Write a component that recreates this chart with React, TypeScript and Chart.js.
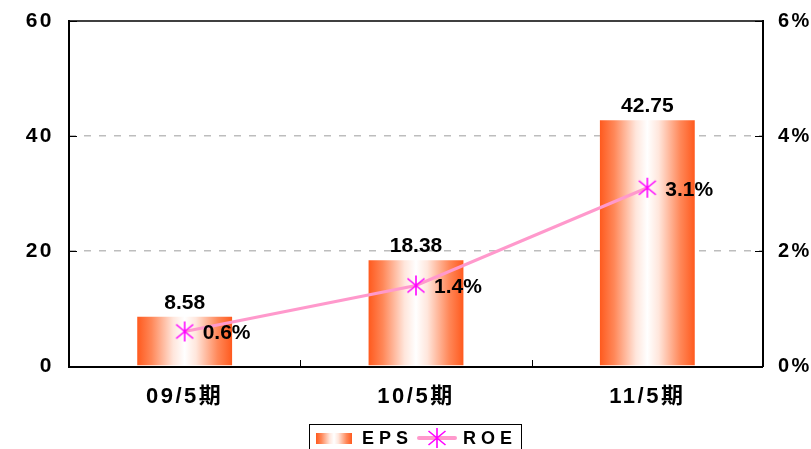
import React, { useEffect, useRef } from "react";
import { Chart, registerables } from "chart.js";

Chart.register(...registerables);

const categories = ["09/5期", "10/5期", "11/5期"];
const epsValues = [8.58, 18.38, 42.75];
const roeValues = [0.6, 1.4, 3.1];
const leftTickValues = [0, 20, 40, 60];
const rightTickValues = [0, 2, 4, 6];
const seriesLabels = ["EPS", "ROE"];

const FONT = '"Liberation Sans", "Noto Sans CJK JP", Arial, sans-serif';

function makeStar(): HTMLCanvasElement {
  const c = document.createElement("canvas");
  c.width = 22;
  c.height = 22;
  const g = c.getContext("2d")!;
  g.strokeStyle = "#FF00FF";
  g.lineWidth = 1.6;
  g.beginPath();
  g.moveTo(11, 1);
  g.lineTo(11, 21);
  g.moveTo(2.5, 4);
  g.lineTo(19.5, 18);
  g.moveTo(19.5, 4);
  g.lineTo(2.5, 18);
  g.stroke();
  return c;
}

function barGradient(ctx: CanvasRenderingContext2D, x0: number, x1: number) {
  const gr = ctx.createLinearGradient(x0, 0, x1, 0);
  gr.addColorStop(0, "#FF5A1E");
  gr.addColorStop(0.15, "#FF8758");
  gr.addColorStop(0.38, "#FFE6DC");
  gr.addColorStop(0.5, "#FFFFFF");
  gr.addColorStop(0.62, "#FFE6DC");
  gr.addColorStop(0.85, "#FF8758");
  gr.addColorStop(1, "#FF5A1E");
  return gr;
}

export default function App() {
  const ref = useRef<HTMLCanvasElement>(null);

  useEffect(() => {
    const canvas = ref.current!;
    const star = makeStar();
    const CAT_PCT = 0.41;

    const framePlugin = {
      id: "frame",
      beforeDraw(chart: any) {
        chart.ctx.letterSpacing = "2.5px";
      },
      afterDatasetsDraw(chart: any) {
        const ctx = chart.ctx as CanvasRenderingContext2D;
        const { left, right, top, bottom } = chart.chartArea;
        const y = chart.scales.y;
        const y1 = chart.scales.y1;
        ctx.save();
        ctx.letterSpacing = "0px";
        ctx.strokeStyle = "#404040";
        ctx.lineWidth = 2;
        ctx.beginPath();
        ctx.moveTo(left, top);
        ctx.lineTo(right, top);
        ctx.stroke();
        ctx.strokeStyle = "#000";
        ctx.beginPath();
        ctx.moveTo(left, top - 1);
        ctx.lineTo(left, bottom + 1);
        ctx.lineTo(right, bottom + 1);
        ctx.moveTo(right, top - 1);
        ctx.lineTo(right, bottom + 1);
        ctx.stroke();
        ctx.lineWidth = 1;
        ctx.beginPath();
        leftTickValues.forEach((v) => {
          const py = Math.round(y.getPixelForValue(v)) + 0.5;
          ctx.moveTo(left, py);
          ctx.lineTo(left + 8, py);
        });
        rightTickValues.forEach((v) => {
          const py = Math.round(y1.getPixelForValue(v)) + 0.5;
          ctx.moveTo(right, py);
          ctx.lineTo(right - 8, py);
        });
        const cw = (right - left) / categories.length;
        for (let i = 1; i < categories.length; i++) {
          const px = Math.round(left + cw * i) + 0.5;
          ctx.moveTo(px, bottom);
          ctx.lineTo(px, bottom - 6);
        }
        ctx.stroke();

        ctx.fillStyle = "#000";
        ctx.font = `bold 21px ${FONT}`;
        const barMeta = chart.getDatasetMeta(1);
        barMeta.data.forEach((el: any, i: number) => {
          ctx.textAlign = "center";
          ctx.textBaseline = "alphabetic";
          ctx.fillText(epsValues[i].toFixed(2), el.x, el.y - 8);
        });
        const lineMeta = chart.getDatasetMeta(0);
        lineMeta.data.forEach((el: any, i: number) => {
          ctx.textAlign = "left";
          ctx.textBaseline = "middle";
          ctx.fillText(roeValues[i].toFixed(1) + "%", el.x + 18, el.y + 2);
        });
        ctx.restore();
      },
      afterDraw(chart: any) {
        const ctx = chart.ctx as CanvasRenderingContext2D;
        ctx.save();
        ctx.letterSpacing = "0px";
        ctx.strokeStyle = "#000";
        ctx.lineWidth = 1;
        ctx.fillStyle = "#fff";
        ctx.fillRect(309.5, 424.5, 212, 40);
        ctx.strokeRect(309.5, 424.5, 212, 40);
        ctx.fillStyle = barGradient(ctx, 316, 352);
        ctx.fillRect(316, 433, 36, 11);
        ctx.strokeStyle = "#FF99CC";
        ctx.lineWidth = 4;
        ctx.lineCap = "round";
        ctx.beginPath();
        ctx.moveTo(419, 438);
        ctx.lineTo(455, 438);
        ctx.stroke();
        ctx.drawImage(star, 437 - 11, 438 - 11);
        ctx.fillStyle = "#000";
        ctx.font = `bold 18px ${FONT}`;
        ctx.letterSpacing = "5px";
        ctx.textAlign = "left";
        ctx.textBaseline = "middle";
        ctx.fillText(seriesLabels[0], 362, 439);
        ctx.fillText(seriesLabels[1], 463, 439);
        ctx.restore();
      },
    };

    const chart = new Chart(canvas, {
      type: "bar",
      data: {
        labels: categories,
        datasets: [
          {
            type: "line",
            label: seriesLabels[1],
            data: roeValues,
            yAxisID: "y1",
            borderColor: "#FF99CC",
            borderWidth: 3,
            pointStyle: star as any,
            pointRadius: 10,
            order: 0,
          } as any,
          {
            type: "bar",
            label: seriesLabels[0],
            data: epsValues,
            yAxisID: "y",
            order: 1,
            barPercentage: 1,
            categoryPercentage: CAT_PCT,
            backgroundColor: (c: any) => {
              const ch = c.chart;
              const xs = ch.scales.x;
              const area = ch.chartArea;
              if (!area || !xs) return "#FF5A1E";
              const cx = xs.getPixelForValue(c.dataIndex);
              const w = ((area.right - area.left) / categories.length) * CAT_PCT;
              return barGradient(ch.ctx, cx - w / 2, cx + w / 2);
            },
          },
        ],
      },
      options: {
        animation: false,
        responsive: true,
        maintainAspectRatio: false,
        layout: { padding: { top: 21, left: 0, right: 0, bottom: 0 } },
        plugins: {
          legend: { display: false },
          tooltip: { enabled: false },
        },
        scales: {
          x: {
            offset: true,
            grid: { display: false, drawTicks: false },
            border: { display: false },
            ticks: {
              color: "#000",
              font: { family: FONT, size: 22, weight: "bold" },
              padding: 18,
            },
            afterFit: (s: any) => {
              s.height = 83;
              s.paddingLeft = 0;
              s.paddingRight = 0;
            },
          },
          y: {
            position: "left",
            min: 0,
            max: 60,
            afterBuildTicks: (s: any) => {
              s.ticks = leftTickValues.map((v) => ({ value: v }));
            },
            grid: {
              drawTicks: false,
              color: (c: any) =>
                c.tick && (c.tick.value === 20 || c.tick.value === 40) ? "#BDBDBD" : "rgba(0,0,0,0)",
              lineWidth: 1.5,
            },
            border: { display: false, dash: [7, 8] },
            ticks: {
              color: "#000",
              font: { family: FONT, size: 21, weight: "bold" },
              padding: 15,
            },
            afterFit: (s: any) => {
              s.width = 69;
              s.paddingTop = 0;
              s.paddingBottom = 0;
            },
          },
          y1: {
            position: "right",
            min: 0,
            max: 6,
            afterBuildTicks: (s: any) => {
              s.ticks = rightTickValues.map((v) => ({ value: v }));
            },
            grid: { display: false, drawTicks: false },
            border: { display: false },
            ticks: {
              color: "#000",
              font: { family: FONT, size: 20, weight: "bold" },
              padding: 15,
              callback: (v: any) => v + "%",
            },
            afterFit: (s: any) => {
              s.width = 48;
              s.paddingTop = 0;
              s.paddingBottom = 0;
            },
          },
        },
      },
      plugins: [framePlugin],
    });

    return () => chart.destroy();
  }, []);

  return (
    <div style={{ position: "fixed", left: 0, top: 0, width: 811, height: 449, background: "#fff" }}>
      <canvas ref={ref} />
    </div>
  );
}
